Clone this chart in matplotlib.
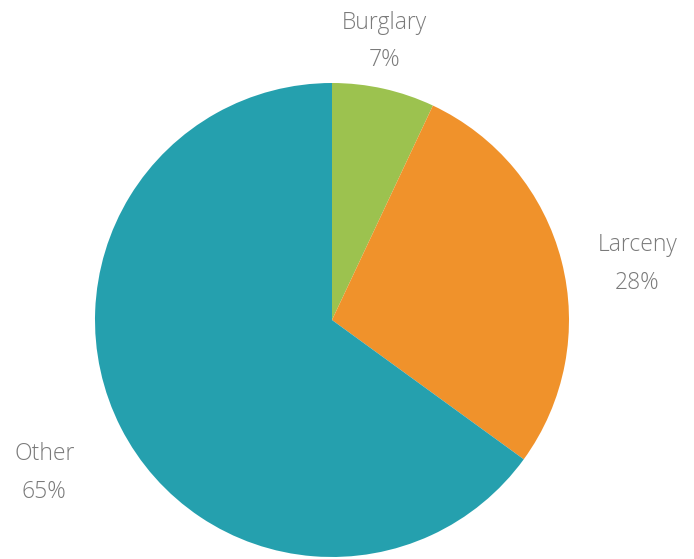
import matplotlib.pyplot as plt
import numpy as np

categories = ["Burglary", "Larceny", "Other"]
shares = [7, 28, 65]
colors = ["#9cc24f", "#f0922b", "#25a0ae"]
# how far out each label sits (in radii) and its angle nudge in degrees
label_dist = [1.195, 1.31, 1.375]
label_nudge = [2, -4, 1]

fig = plt.figure(figsize=(6.94, 5.59), dpi=100)
ax = fig.add_axes([0, 0, 1, 1])

cx, cy, r = 332, 239, 237
wedges, _ = ax.pie(shares, colors=colors, startangle=90, counterclock=False,
                   center=(cx, cy), radius=r, frame=True,
                   wedgeprops=dict(linewidth=0))
ax.set_xlim(0, 694)
ax.set_ylim(0, 559)
ax.set_aspect("equal")
ax.axis("off")

for w, name, val, d, n in zip(wedges, categories, shares, label_dist, label_nudge):
    mid = np.deg2rad((w.theta1 + w.theta2) / 2 + n)
    x = cx + d * r * np.cos(mid)
    y = cy + d * r * np.sin(mid)
    ax.text(x, y, f"{name}\n{val}%", ha="center", va="center",
            fontsize=16.5, color="#7a7a7a", family=["Open Sans", "DejaVu Sans"],
            fontweight="light", linespacing=1.76)

fig.savefig("out.png", dpi=100)
